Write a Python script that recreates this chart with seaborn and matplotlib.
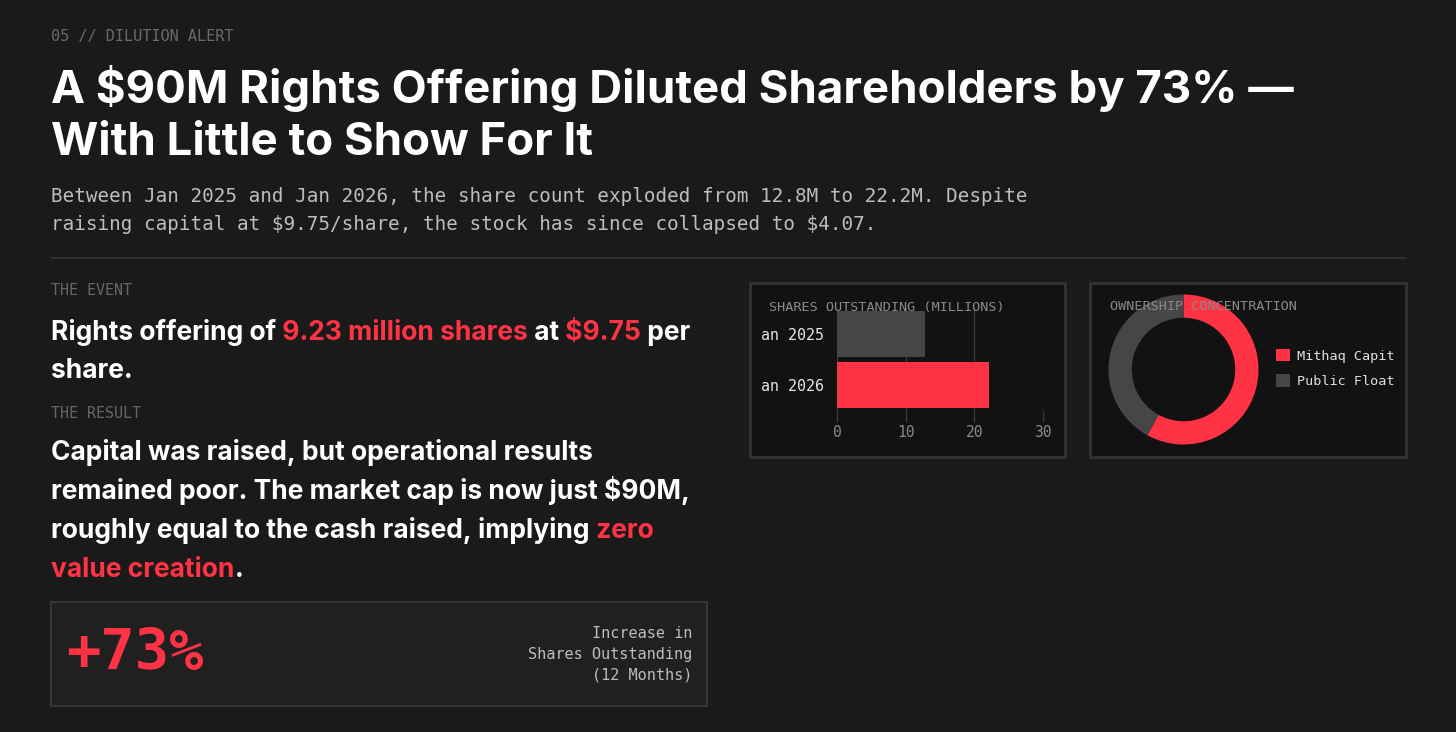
import numpy as np
import pandas as pd
import matplotlib
matplotlib.use("Agg")
import matplotlib.pyplot as plt
import seaborn as sns
from matplotlib.patches import Rectangle
from matplotlib.transforms import Bbox, TransformedBbox

# ---- data ----
periods = ["Jan 2025", "Jan 2026"]
shares_m = [12.8, 22.2]
owners = ["Mithaq Capital", "Public Float"]
owner_pct = [58, 42]
x_ticks = [0, 10, 20, 30]

# ---- look ----
BG = "#1a1a1a"
PANEL = "#121212"
BOX = "#202020"
EDGE = "#333333"
RED = "#ff3344"
GRAY = "#464646"
SANS = "Inter"
MONO = "DejaVu Sans Mono"

W, H = 1456, 732


def fx(px):
    return px / W


def fy(py):
    return 1 - py / H


sns.set_theme(style="dark")
plt.rcParams["font.family"] = [SANS, "DejaVu Sans"]
plt.rcParams["text.parse_math"] = False  # dollar signs are just dollar signs

fig = plt.figure(figsize=(14.56, 7.32), dpi=100, facecolor=BG)
renderer = fig.canvas.get_renderer()


def rich_line(x_px, y_px, parts, **kw):
    # draw coloured pieces one after another on the same baseline
    x = x_px
    for s, c in parts:
        t = fig.text(fx(x), fy(y_px), s, color=c, va="baseline", ha="left", **kw)
        bb = t.get_window_extent(renderer)
        x = bb.x1
    return x


# ---- header ----
fig.text(fx(51), fy(36), "05 // DILUTION ALERT", family=MONO, size=11,
         color="#6b6b6b", va="center")
fig.text(fx(51), fy(103), "A $90M Rights Offering Diluted Shareholders by 73% \u2014",
         size=32.8, weight="bold", color="white", va="baseline")
fig.text(fx(51), fy(155), "With Little to Show For It",
         size=32.8, weight="bold", color="white", va="baseline")
fig.text(fx(51), fy(202),
         "Between Jan 2025 and Jan 2026, the share count exploded from 12.8M to 22.2M. Despite",
         family=MONO, size=13.9, color="#bdbdbd", va="baseline")
fig.text(fx(51), fy(230),
         "raising capital at $9.75/share, the stock has since collapsed to $4.07.",
         family=MONO, size=13.9, color="#bdbdbd", va="baseline")
fig.add_artist(plt.Line2D([fx(51), fx(1406)], [fy(258), fy(258)],
                          color=EDGE, lw=1.2))

# ---- left column ----
body = dict(size=19, weight="bold")
fig.text(fx(51), fy(291), "THE EVENT", family=MONO, size=10.8, color="#666666", va="center")
rich_line(51, 340, [("Rights offering of", "white"), (" 9.23 million shares", RED),
                    (" at", "white"), (" $9.75", RED), (" per", "white")], **body)
rich_line(51, 378, [("share.", "white")], **body)

fig.text(fx(51), fy(413), "THE RESULT", family=MONO, size=10.8, color="#666666", va="center")
rich_line(51, 460, [("Capital was raised, but operational results", "white")], **body)
rich_line(51, 499, [("remained poor. The market cap is now just $90M,", "white")], **body)
rich_line(51, 538, [("roughly equal to the cash raised, implying", "white"), (" zero", RED)], **body)
rich_line(51, 577, [("value creation", RED), (".", "white")], **body)

# stat box
fig.add_artist(Rectangle((fx(51), fy(706)), fx(656) - fx(0), fy(602) - fy(706),
                         transform=fig.transFigure, facecolor=BOX, edgecolor="#353535",
                         lw=1.5, zorder=-5))
fig.text(fx(66), fy(654), "+73%", family=MONO, size=41, weight="bold",
         color=RED, va="center")
for line, yy in zip(["Increase in", "Shares Outstanding", "(12 Months)"], [633, 654, 675]):
    fig.text(fx(692), fy(yy), line, family=MONO, size=11, color="#bdbdbd",
             va="center", ha="right")

# ---- panels ----
for x0, x1 in [(750, 1065), (1090, 1406)]:
    fig.add_artist(Rectangle((fx(x0), fy(457)), fx(x1) - fx(x0), fy(283) - fy(457),
                             transform=fig.transFigure, facecolor=PANEL, edgecolor=EDGE,
                             lw=2, zorder=-5))

# bar chart
ax = fig.add_axes([fx(837), fy(411), fx(1043) - fx(837), fy(308) - fy(411)])
ax.set_facecolor("none")
sns.barplot(x=shares_m, y=periods, hue=periods, palette=[GRAY, RED], orient="h",
            width=0.9, saturation=1, legend=False, ax=ax, zorder=2,
            edgecolor="none", linewidth=0)
ax.set_xlim(0, 30)
ax.set_ylim(1.5, -0.5)
ax.set_xticks(x_ticks)
ax.grid(axis="x", color="#3a3a3a", lw=1)
ax.grid(axis="y", visible=False)
ax.set_axisbelow(True)
for s in ax.spines.values():
    s.set_visible(False)
ax.tick_params(axis="x", length=8, width=1, color="#3a3a3a", labelcolor="#8a8a8a",
               labelsize=10.5, pad=2, bottom=True)
ax.tick_params(axis="y", length=0, pad=9, labelcolor="#e6e6e6", labelsize=10.8, left=True)
for t in ax.get_xticklabels() + ax.get_yticklabels():
    t.set_family(MONO)
ax.set_xlabel("")
ax.set_ylabel("")
clip_bar = TransformedBbox(Bbox.from_extents(fx(762), fy(455), fx(1063), fy(285)),
                           fig.transFigure)
for t in ax.get_yticklabels():
    t.set_clip_box(clip_bar)
    t.set_clip_on(True)
fig.text(fx(769), fy(307), "SHARES OUTSTANDING (MILLIONS)", family=MONO, size=9.7,
         color="#8a8a8a", va="center")

# donut
ax2 = fig.add_axes([fx(1108.5), fy(444.5), fx(150), fy(294.5) - fy(444.5)])
wedges, _ = ax2.pie(owner_pct, colors=[RED, GRAY], startangle=90, counterclock=False,
                    wedgeprops=dict(width=0.31, edgecolor="none"), radius=1)
ax2.set_xlim(-1, 1)
ax2.set_ylim(-1, 1)
ax2.axis("off")
leg = ax2.legend(wedges, owners, loc="upper left", bbox_to_anchor=(fx(1276), fy(349)),
                 bbox_transform=fig.transFigure, frameon=False, borderpad=0,
                 borderaxespad=0, handlelength=1.04, handleheight=1.04,
                 handletextpad=0.5, labelspacing=0.85,
                 prop=dict(family=MONO, size=9.7), labelcolor="#e0e0e0")
clip_leg = TransformedBbox(Bbox.from_extents(fx(1092), fy(455), fx(1395), fy(285)),
                           fig.transFigure)
for t in leg.get_texts():
    t.set_clip_box(clip_leg)
    t.set_clip_on(True)
fig.text(fx(1110), fy(307), "OWNERSHIP CONCENTRATION", family=MONO, size=9.7,
         color="#8a8a8a", va="center")

fig.savefig("out.png", dpi=100, facecolor=BG)
